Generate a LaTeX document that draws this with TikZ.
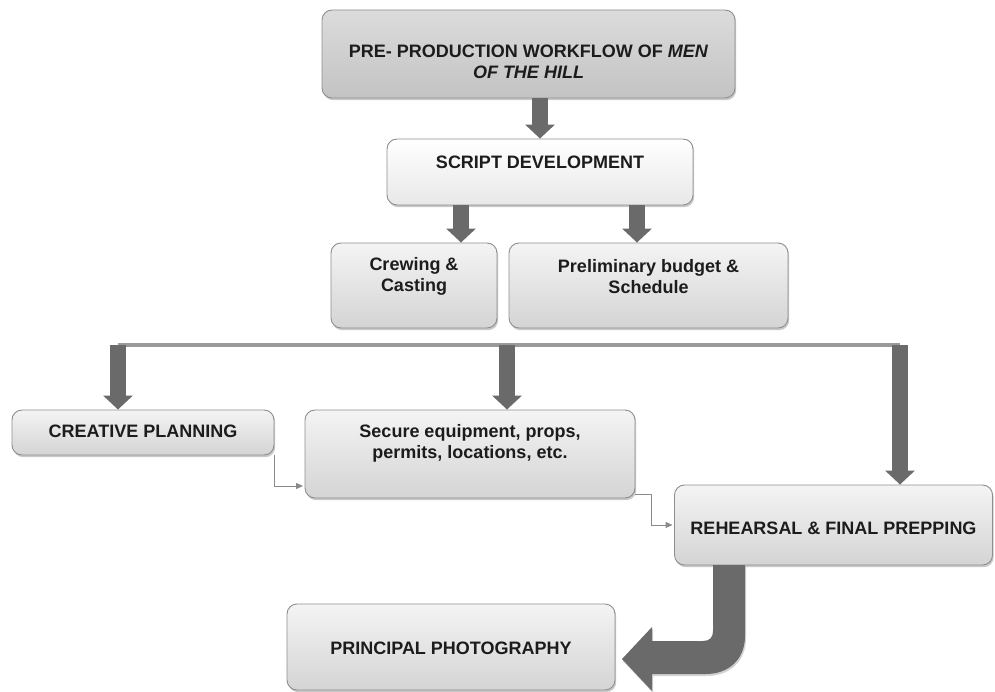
\documentclass[tikz,border=0pt]{standalone}
\usepackage{fontspec}
\setmainfont{Liberation Sans}
\usetikzlibrary{arrows.meta,shadows}

\definecolor{boxline}{HTML}{8E8E8E}
\definecolor{boxtop}{HTML}{F4F4F4}
\definecolor{boxbot}{HTML}{D4D4D4}
\definecolor{arrowgray}{HTML}{6A6A6A}
\definecolor{thingray}{HTML}{8A8A8A}
\definecolor{bargray}{HTML}{9A9A9A}
\definecolor{ink}{HTML}{1C1C1C}

\tikzset{
  box/.style={draw=boxline, line width=0.9pt, rounded corners=10pt,
    top color=boxtop, bottom color=boxbot, inner sep=0pt,
    drop shadow={shadow xshift=1.2pt, shadow yshift=-2.2pt, opacity=0.3, fill=black!70}},
  lbl/.style={text=ink, align=center, inner sep=0pt,
    font=\bfseries\fontsize{18}{21}\selectfont},
  fat/.style={draw=arrowgray, line width=16pt,
    -{Triangle[width=29pt,length=14pt]}},
  thinarrow/.style={draw=thingray, line width=1pt,
    -{Triangle[width=6pt,length=7pt]}, shorten >=1.5pt},
  barline/.style={draw=bargray, line width=4.5pt},
  bigarrow/.style={fill=arrowgray,
    drop shadow={shadow xshift=1pt, shadow yshift=-2pt, opacity=0.25, fill=black!70}}
}

\begin{document}
\begin{tikzpicture}[x=1pt,y=-1pt]
\useasboundingbox (0,0) rectangle (995,692);

% boxes
\node[box, top color=boxtop!90!black, bottom color=boxbot!92!black,
      minimum width=413pt, minimum height=88pt] (top) at (528.5,54) {};
\node[box, top color=white, bottom color=boxtop!95!black,
      minimum width=306pt, minimum height=66pt] (script) at (540,172) {};
\node[box, minimum width=166pt, minimum height=85pt] (crew) at (414,285.5) {};
\node[box, minimum width=279pt, minimum height=85pt] (prelim) at (648.5,285.5) {};
\node[box, minimum width=262pt, minimum height=45pt] (creative) at (143,432.5) {};
\node[box, minimum width=330pt, minimum height=88pt] (secure) at (470,454) {};
\node[box, minimum width=318pt, minimum height=80pt] (reh) at (833.5,525) {};
\node[box, minimum width=328pt, minimum height=86pt] (prin) at (451,647) {};

% labels
\node[lbl] (topt) at (528.5,62) {PRE- PRODUCTION WORKFLOW OF \textit{MEN}\\\textit{OF THE HILL}};
\node[lbl] (scriptt) at (540,162) {SCRIPT DEVELOPMENT};
\node[lbl] (crewt) at (414,276.5) {Crewing \&\\Casting};
\node[lbl] (prelimt) at (648.5,276.5) {Preliminary budget \&\\Schedule};
\node[lbl] (creativet) at (143,431) {CREATIVE PLANNING};
\node[lbl] (securet) at (470,443) {Secure equipment, props,\\permits, locations, etc.};
\node[lbl] (reht) at (833.5,528) {REHEARSAL \& FINAL PREPPING};
\node[lbl] (print) at (451,648) {PRINCIPAL PHOTOGRAPHY};

% connector points
\coordinate (s1) at (461,205);
\coordinate (s2) at (637,205);
\coordinate (barL) at (118,345);
\coordinate (barM) at (507,345);
\coordinate (barR) at (900,345);

% fat arrows
\draw[fat] (script.north |- top.south) -- (script.north);
\draw[fat] (s1) -- (s1 |- crew.north);
\draw[fat] (s2) -- (s2 |- prelim.north);

\draw[barline] (barL) -- (barR);
\draw[fat] (barL) -- (barL |- creative.north);
\draw[fat] (barM) -- (barM |- secure.north);
\draw[fat] (barR) -- (barR |- reh.north);

% thin elbow connectors
\draw[thinarrow] (creative.south east) |- ([yshift=-32pt]secure.west);
\draw[thinarrow] ([yshift=-40pt]secure.east) -- ++(16,0) |- (reh.west);

% bent block arrow from rehearsal down to principal photography
\path[bigarrow] (713,565) -- (713,631)
  .. controls (713,637) and (710,641) .. (703,641) -- (652,641) -- (652,627)
  -- (622,659) -- (652,691) -- (652,674) -- (706,674)
  .. controls (728,674) and (745,660) .. (745,636) -- (745,565) -- cycle;
\end{tikzpicture}
\end{document}
